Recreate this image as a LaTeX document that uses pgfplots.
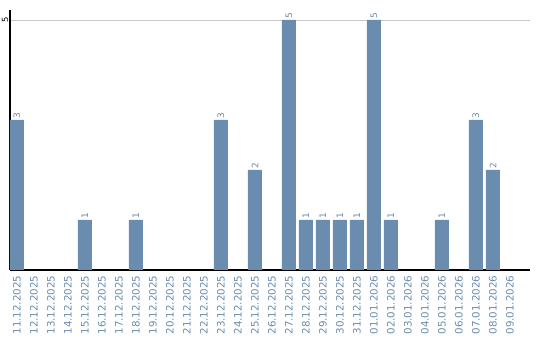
\documentclass[border=0pt]{standalone}
\usepackage{pgfplots}
\pgfplotsset{compat=1.18}
\usepackage{fontspec}
\setmainfont{DejaVu Sans}
\definecolor{barc}{RGB}{106,140,174}
\begin{document}
\begin{tikzpicture}
\begin{axis}[name=ax, scale only axis, width=520bp, height=260bp,
  xmin=-0.41, xmax=30.18, ymin=0, ymax=5.2,
  axis x line*=bottom, axis y line*=left,
  axis line style={black, line width=1.2bp},
  major tick length=0pt,
  ytick={5}, ymajorgrids, grid style={black!22, line width=0.8bp},
  yticklabel style={rotate=90, anchor=south, font=\fontsize{8.5}{9}\selectfont, inner sep=1.5bp},
  /pgf/number format/assume math mode=true,
  xtick={0,...,29},
  xticklabels={11.12.2025,12.12.2025,13.12.2025,14.12.2025,15.12.2025,16.12.2025,17.12.2025,18.12.2025,19.12.2025,20.12.2025,21.12.2025,22.12.2025,23.12.2025,24.12.2025,25.12.2025,26.12.2025,27.12.2025,28.12.2025,29.12.2025,30.12.2025,31.12.2025,01.01.2026,02.01.2026,03.01.2026,04.01.2026,05.01.2026,06.01.2026,07.01.2026,08.01.2026,09.01.2026},
  xticklabel style={rotate=90, anchor=east, text=barc, font=\fontsize{10.3}{11}\selectfont, inner sep=5.5bp},
  nodes near coords,
  nodes near coords style={rotate=90, anchor=west, text=barc, font=\fontsize{9}{9}\selectfont, inner sep=1.5bp},
]
\addplot[ybar, bar width=14bp, fill=barc, draw=none] coordinates {
(0,3) (4,1) (7,1) (12,3) (14,2) (16,5) (17,1) (18,1) (19,1) (20,1) (21,5) (22,1) (25,1) (27,3) (28,2)
};
\end{axis}
\pgfresetboundingbox
\path[use as bounding box] ([shift={(-10bp,-70bp)}]ax.south west) rectangle ([shift={(10bp,10bp)}]ax.north east);
\end{tikzpicture}
\end{document}
